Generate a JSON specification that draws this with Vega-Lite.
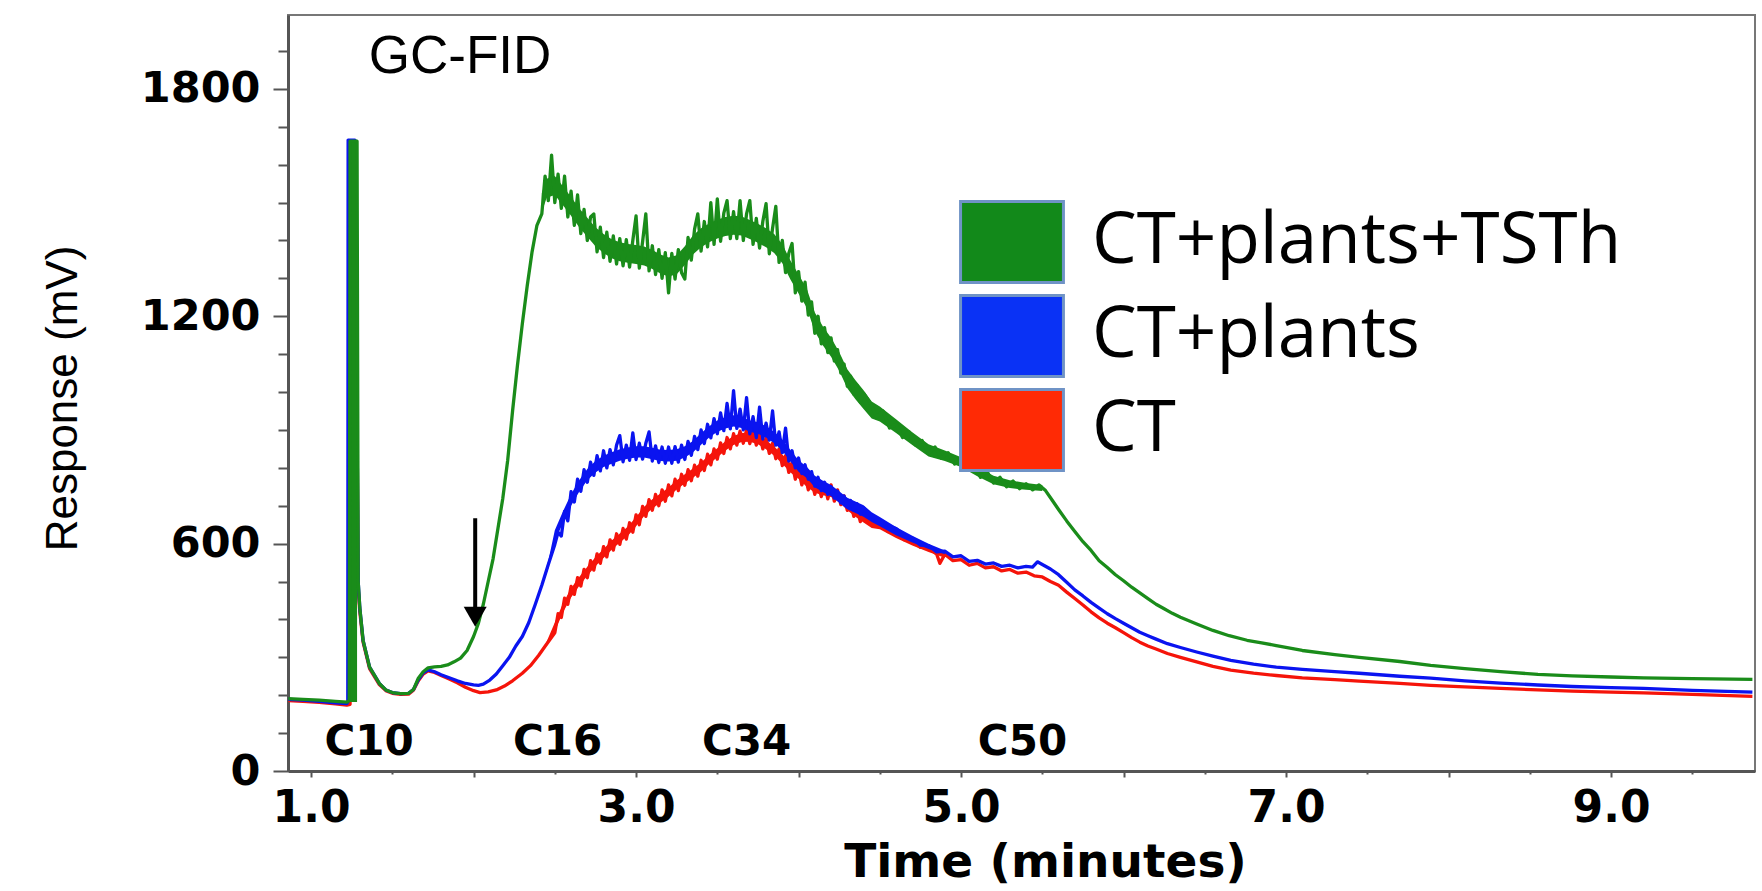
{
  "$schema": "https://vega.github.io/schema/vega-lite/v6.json",
  "width": 1467,
  "height": 756,
  "autosize": {"type": "none"},
  "padding": {"left": 288, "top": 15, "right": 7, "bottom": 120},
  "background": "white",
  "config": {"view": {"stroke": "#777", "strokeWidth": 2}},
  "datasets": {
    "ct": [
      {"time":0.86,"response":186},{"time":0.95,"response":184},{"time":1.05,"response":181},{"time":1.15,"response":177},{"time":1.22,"response":174},{"time":1.24,"response":176},{"time":1.245,"response":1100},{"time":1.28,"response":1100},{"time":1.29,"response":480},{"time":1.30,"response":420},{"time":1.32,"response":340},{"time":1.36,"response":270},{"time":1.42,"response":228},{"time":1.46,"response":212},{"time":1.50,"response":205},{"time":1.55,"response":202},{"time":1.60,"response":203},{"time":1.63,"response":213},{"time":1.66,"response":238},{"time":1.69,"response":256},{"time":1.72,"response":264},{"time":1.76,"response":260},{"time":1.80,"response":252},{"time":1.85,"response":243},{"time":1.90,"response":233},{"time":1.95,"response":221},{"time":2.00,"response":212},{"time":2.04,"response":207},{"time":2.09,"response":209},{"time":2.14,"response":214},{"time":2.19,"response":224},{"time":2.24,"response":238},{"time":2.30,"response":258},{"time":2.35,"response":278},{"time":2.40,"response":305},{"time":2.45,"response":335},
      {"time":2.50,"response":365},{"time":2.52,"response":415},{"time":2.54,"response":405},{"time":2.56,"response":456},{"time":2.58,"response":440},{"time":2.60,"response":487},{"time":2.62,"response":466},{"time":2.64,"response":510},{"time":2.66,"response":488},{"time":2.68,"response":532},{"time":2.70,"response":510},{"time":2.72,"response":555},{"time":2.74,"response":530},{"time":2.76,"response":573},{"time":2.78,"response":548},{"time":2.80,"response":592},{"time":2.82,"response":565},{"time":2.84,"response":610},{"time":2.86,"response":583},{"time":2.88,"response":626},{"time":2.90,"response":598},{"time":2.92,"response":640},{"time":2.94,"response":612},{"time":2.96,"response":655},{"time":2.98,"response":630},{"time":3.00,"response":676},{"time":3.02,"response":650},{"time":3.04,"response":698},{"time":3.06,"response":672},{"time":3.08,"response":716},{"time":3.10,"response":688},{"time":3.12,"response":730},{"time":3.14,"response":700},{"time":3.16,"response":742},{"time":3.18,"response":712},{"time":3.20,"response":755},{"time":3.22,"response":726},{"time":3.24,"response":770},{"time":3.26,"response":740},{"time":3.28,"response":783},{"time":3.30,"response":754},{"time":3.32,"response":795},{"time":3.34,"response":766},{"time":3.36,"response":807},{"time":3.38,"response":778},{"time":3.40,"response":820},{"time":3.42,"response":793},{"time":3.44,"response":836},{"time":3.46,"response":808},{"time":3.48,"response":850},{"time":3.50,"response":823},{"time":3.52,"response":866},{"time":3.54,"response":838},{"time":3.56,"response":880},{"time":3.58,"response":850},{"time":3.60,"response":890},{"time":3.62,"response":860},{"time":3.64,"response":897},{"time":3.66,"response":865},{"time":3.68,"response":900},{"time":3.70,"response":864},{"time":3.72,"response":897},{"time":3.74,"response":860},{"time":3.76,"response":890},{"time":3.78,"response":850},{"time":3.80,"response":878},{"time":3.82,"response":838},{"time":3.84,"response":865},{"time":3.86,"response":824},{"time":3.88,"response":850},{"time":3.90,"response":806},{"time":3.92,"response":832},{"time":3.94,"response":788},{"time":3.96,"response":814},{"time":3.98,"response":770},{"time":4.00,"response":797},{"time":4.02,"response":755},{"time":4.04,"response":782},{"time":4.06,"response":742},{"time":4.08,"response":768},{"time":4.10,"response":730},{"time":4.12,"response":760},{"time":4.14,"response":724},{"time":4.16,"response":758},{"time":4.18,"response":718},{"time":4.20,"response":755},{"time":4.22,"response":712},{"time":4.24,"response":742},{"time":4.26,"response":703},{"time":4.28,"response":726},{"time":4.30,"response":688},{"time":4.32,"response":710},{"time":4.34,"response":672},{"time":4.36,"response":695},{"time":4.38,"response":658},{"time":4.40,"response":680},
      {"time":4.45,"response":650},{"time":4.50,"response":652},{"time":4.55,"response":632},{"time":4.60,"response":630},{"time":4.65,"response":610},{"time":4.70,"response":608},{"time":4.75,"response":590},{"time":4.80,"response":590},{"time":4.85,"response":572},{"time":4.87,"response":548},{"time":4.90,"response":572},{"time":4.95,"response":555},{"time":5.00,"response":558},{"time":5.05,"response":543},{"time":5.10,"response":548},{"time":5.15,"response":536},{"time":5.20,"response":539},{"time":5.25,"response":528},{"time":5.30,"response":532},{"time":5.35,"response":522},{"time":5.40,"response":525},{"time":5.45,"response":515},{"time":5.50,"response":512},{"time":5.55,"response":500},{"time":5.60,"response":490},{"time":5.65,"response":472},{"time":5.70,"response":455},{"time":5.75,"response":438},{"time":5.80,"response":420},{"time":5.85,"response":404},{"time":5.90,"response":390},{"time":5.95,"response":378},{"time":6.00,"response":365},{"time":6.05,"response":352},{"time":6.10,"response":340},{"time":6.15,"response":330},{"time":6.20,"response":322},{"time":6.27,"response":310},{"time":6.35,"response":300},{"time":6.45,"response":288},{"time":6.55,"response":276},{"time":6.66,"response":266},{"time":6.80,"response":258},{"time":6.94,"response":252},{"time":7.10,"response":246},{"time":7.30,"response":241},{"time":7.45,"response":237},{"time":7.70,"response":231},{"time":7.89,"response":226},{"time":8.10,"response":222},{"time":8.32,"response":218},{"time":8.55,"response":214},{"time":8.76,"response":211},{"time":9.00,"response":208},{"time":9.20,"response":206},{"time":9.50,"response":202},{"time":9.87,"response":197}
    ],
    "plants": [
      {"time":0.86,"response":189},{"time":0.95,"response":187},{"time":1.05,"response":184},{"time":1.15,"response":180},{"time":1.22,"response":178},{"time":1.226,"response":182},{"time":1.228,"response":1665},{"time":1.27,"response":1665},{"time":1.285,"response":800},{"time":1.29,"response":500},{"time":1.30,"response":430},{"time":1.32,"response":345},{"time":1.36,"response":274},{"time":1.42,"response":231},{"time":1.46,"response":214},{"time":1.50,"response":207},{"time":1.55,"response":204},{"time":1.60,"response":205},{"time":1.63,"response":215},{"time":1.66,"response":241},{"time":1.69,"response":259},{"time":1.72,"response":267},{"time":1.76,"response":262},{"time":1.80,"response":254},{"time":1.85,"response":246},{"time":1.90,"response":238},{"time":1.95,"response":231},{"time":2.00,"response":227},{"time":2.03,"response":226},{"time":2.06,"response":229},{"time":2.10,"response":240},{"time":2.14,"response":256},{"time":2.18,"response":278},{"time":2.22,"response":300},{"time":2.26,"response":330},{"time":2.30,"response":355},{"time":2.34,"response":392},{"time":2.38,"response":440},{"time":2.42,"response":490},{"time":2.46,"response":545},
      {"time":2.50,"response":598},{"time":2.52,"response":630},{"time":2.54,"response":620},{"time":2.56,"response":685},{"time":2.58,"response":660},{"time":2.60,"response":737},{"time":2.62,"response":710},{"time":2.64,"response":770},{"time":2.66,"response":738},{"time":2.68,"response":795},{"time":2.70,"response":762},{"time":2.72,"response":815},{"time":2.74,"response":780},{"time":2.76,"response":832},{"time":2.78,"response":792},{"time":2.80,"response":845},{"time":2.82,"response":800},{"time":2.84,"response":848},{"time":2.86,"response":808},{"time":2.88,"response":860},{"time":2.90,"response":885},{"time":2.92,"response":816},{"time":2.94,"response":860},{"time":2.96,"response":820},{"time":2.98,"response":892},{"time":3.00,"response":822},{"time":3.02,"response":865},{"time":3.04,"response":823},{"time":3.06,"response":865},{"time":3.08,"response":895},{"time":3.10,"response":818},{"time":3.12,"response":858},{"time":3.14,"response":814},{"time":3.16,"response":855},{"time":3.18,"response":812},{"time":3.20,"response":855},{"time":3.22,"response":812},{"time":3.24,"response":856},{"time":3.26,"response":815},{"time":3.28,"response":860},{"time":3.30,"response":822},{"time":3.32,"response":870},{"time":3.34,"response":833},{"time":3.36,"response":883},{"time":3.38,"response":848},{"time":3.40,"response":900},{"time":3.42,"response":864},{"time":3.44,"response":915},{"time":3.46,"response":879},{"time":3.48,"response":930},{"time":3.50,"response":890},{"time":3.52,"response":945},{"time":3.54,"response":898},{"time":3.56,"response":970},{"time":3.58,"response":903},{"time":3.60,"response":1004},{"time":3.62,"response":904},{"time":3.64,"response":955},{"time":3.66,"response":900},{"time":3.68,"response":985},{"time":3.70,"response":890},{"time":3.72,"response":935},{"time":3.74,"response":880},{"time":3.76,"response":960},{"time":3.78,"response":876},{"time":3.80,"response":918},{"time":3.82,"response":873},{"time":3.84,"response":950},{"time":3.86,"response":860},{"time":3.88,"response":895},{"time":3.90,"response":840},{"time":3.92,"response":905},{"time":3.94,"response":818},{"time":3.96,"response":845},{"time":3.98,"response":800},{"time":4.00,"response":826},{"time":4.02,"response":785},{"time":4.04,"response":808},{"time":4.06,"response":770},{"time":4.08,"response":790},{"time":4.10,"response":752},{"time":4.12,"response":775},{"time":4.14,"response":740},{"time":4.16,"response":762},{"time":4.18,"response":730},{"time":4.20,"response":750},{"time":4.22,"response":720},{"time":4.24,"response":738},{"time":4.26,"response":708},{"time":4.28,"response":726},{"time":4.30,"response":698},{"time":4.32,"response":714},{"time":4.34,"response":688},{"time":4.36,"response":705},{"time":4.38,"response":678},{"time":4.40,"response":695},
      {"time":4.45,"response":672},{"time":4.50,"response":660},{"time":4.55,"response":648},{"time":4.60,"response":640},{"time":4.65,"response":622},{"time":4.70,"response":615},{"time":4.75,"response":596},{"time":4.80,"response":595},{"time":4.85,"response":578},{"time":4.90,"response":580},{"time":4.95,"response":565},{"time":5.00,"response":568},{"time":5.05,"response":553},{"time":5.10,"response":556},{"time":5.15,"response":546},{"time":5.20,"response":549},{"time":5.25,"response":540},{"time":5.30,"response":543},{"time":5.35,"response":536},{"time":5.40,"response":540},{"time":5.44,"response":538},{"time":5.47,"response":552},{"time":5.50,"response":545},{"time":5.55,"response":533},{"time":5.60,"response":518},{"time":5.65,"response":498},{"time":5.70,"response":478},{"time":5.75,"response":462},{"time":5.80,"response":445},{"time":5.85,"response":430},{"time":5.90,"response":415},{"time":5.95,"response":402},{"time":6.00,"response":390},{"time":6.05,"response":378},{"time":6.10,"response":366},{"time":6.15,"response":357},{"time":6.20,"response":348},{"time":6.27,"response":336},{"time":6.35,"response":326},{"time":6.45,"response":314},{"time":6.55,"response":303},{"time":6.66,"response":292},{"time":6.80,"response":282},{"time":6.94,"response":274},{"time":7.10,"response":268},{"time":7.30,"response":262},{"time":7.45,"response":258},{"time":7.70,"response":250},{"time":7.89,"response":245},{"time":8.10,"response":238},{"time":8.32,"response":232},{"time":8.55,"response":227},{"time":8.76,"response":223},{"time":9.00,"response":220},{"time":9.20,"response":218},{"time":9.50,"response":213},{"time":9.87,"response":208}
    ],
    "tsth": [
      {"time":0.86,"response":191},{"time":0.95,"response":189},{"time":1.05,"response":187},{"time":1.15,"response":184},{"time":1.22,"response":182},{"time":1.235,"response":186},{"time":1.24,"response":1662},{"time":1.283,"response":1662},{"time":1.29,"response":500},{"time":1.30,"response":430},{"time":1.32,"response":345},{"time":1.36,"response":274},{"time":1.42,"response":231},{"time":1.46,"response":214},{"time":1.50,"response":207},{"time":1.55,"response":204},{"time":1.60,"response":205},{"time":1.63,"response":215},{"time":1.66,"response":245},{"time":1.69,"response":262},{"time":1.72,"response":272},{"time":1.76,"response":275},{"time":1.80,"response":276},{"time":1.84,"response":280},{"time":1.88,"response":288},{"time":1.92,"response":298},{"time":1.96,"response":318},{"time":2.00,"response":355},{"time":2.03,"response":390},{"time":2.06,"response":440},{"time":2.09,"response":500},{"time":2.12,"response":560},{"time":2.15,"response":640},{"time":2.18,"response":720},{"time":2.21,"response":820},{"time":2.24,"response":950},{"time":2.27,"response":1070},{"time":2.30,"response":1180},{"time":2.33,"response":1280},{"time":2.36,"response":1370},{"time":2.39,"response":1440},
      {"time":2.42,"response":1470},{"time":2.44,"response":1570},{"time":2.46,"response":1505},{"time":2.48,"response":1625},{"time":2.50,"response":1500},{"time":2.52,"response":1575},{"time":2.54,"response":1485},{"time":2.56,"response":1570},{"time":2.58,"response":1462},{"time":2.60,"response":1530},{"time":2.62,"response":1440},{"time":2.64,"response":1520},{"time":2.66,"response":1418},{"time":2.68,"response":1482},{"time":2.70,"response":1400},{"time":2.72,"response":1462},{"time":2.74,"response":1470},{"time":2.76,"response":1370},{"time":2.78,"response":1435},{"time":2.80,"response":1355},{"time":2.82,"response":1422},{"time":2.84,"response":1345},{"time":2.86,"response":1412},{"time":2.88,"response":1338},{"time":2.90,"response":1405},{"time":2.92,"response":1333},{"time":2.94,"response":1402},{"time":2.96,"response":1330},{"time":2.98,"response":1400},{"time":3.00,"response":1465},{"time":3.02,"response":1327},{"time":3.04,"response":1396},{"time":3.06,"response":1470},{"time":3.08,"response":1320},{"time":3.10,"response":1386},{"time":3.12,"response":1310},{"time":3.14,"response":1376},{"time":3.16,"response":1300},{"time":3.18,"response":1368},{"time":3.20,"response":1262},{"time":3.22,"response":1366},{"time":3.24,"response":1298},{"time":3.26,"response":1376},{"time":3.28,"response":1315},{"time":3.30,"response":1298},{"time":3.32,"response":1408},{"time":3.34,"response":1348},{"time":3.36,"response":1430},{"time":3.38,"response":1470},{"time":3.40,"response":1372},{"time":3.42,"response":1450},{"time":3.44,"response":1383},{"time":3.46,"response":1500},{"time":3.48,"response":1390},{"time":3.50,"response":1510},{"time":3.52,"response":1398},{"time":3.54,"response":1472},{"time":3.56,"response":1505},{"time":3.58,"response":1405},{"time":3.60,"response":1476},{"time":3.62,"response":1405},{"time":3.64,"response":1505},{"time":3.66,"response":1400},{"time":3.68,"response":1470},{"time":3.70,"response":1505},{"time":3.72,"response":1390},{"time":3.74,"response":1458},{"time":3.76,"response":1380},{"time":3.78,"response":1450},{"time":3.80,"response":1497},{"time":3.82,"response":1365},{"time":3.84,"response":1432},{"time":3.86,"response":1490},{"time":3.88,"response":1342},{"time":3.90,"response":1400},{"time":3.92,"response":1315},{"time":3.94,"response":1366},{"time":3.96,"response":1392},{"time":3.98,"response":1262},{"time":4.00,"response":1318},{"time":4.02,"response":1240},{"time":4.04,"response":1290},{"time":4.06,"response":1203},{"time":4.08,"response":1238},{"time":4.10,"response":1155},{"time":4.12,"response":1200},{"time":4.14,"response":1127},{"time":4.16,"response":1170},{"time":4.18,"response":1104},{"time":4.20,"response":1143},{"time":4.22,"response":1082},{"time":4.24,"response":1112},{"time":4.26,"response":1050},{"time":4.28,"response":1074},{"time":4.30,"response":1015},{"time":4.32,"response":1042},{"time":4.34,"response":994},{"time":4.36,"response":1018},{"time":4.38,"response":973},{"time":4.40,"response":997},
      {"time":4.44,"response":972},{"time":4.48,"response":935},{"time":4.52,"response":950},{"time":4.56,"response":905},{"time":4.60,"response":915},{"time":4.64,"response":880},{"time":4.68,"response":895},{"time":4.72,"response":860},{"time":4.76,"response":872},{"time":4.80,"response":838},{"time":4.84,"response":855},{"time":4.88,"response":825},{"time":4.92,"response":840},{"time":4.96,"response":810},{"time":5.00,"response":822},{"time":5.04,"response":795},{"time":5.08,"response":805},{"time":5.12,"response":775},{"time":5.16,"response":790},{"time":5.20,"response":760},{"time":5.24,"response":775},{"time":5.28,"response":750},{"time":5.32,"response":765},{"time":5.36,"response":745},{"time":5.40,"response":758},{"time":5.44,"response":742},{"time":5.48,"response":755},{"time":5.52,"response":740},{"time":5.56,"response":715},{"time":5.60,"response":690},{"time":5.65,"response":660},{"time":5.70,"response":632},{"time":5.75,"response":605},{"time":5.80,"response":582},{"time":5.85,"response":555},{"time":5.90,"response":537},{"time":5.95,"response":518},{"time":6.00,"response":502},{"time":6.05,"response":485},{"time":6.10,"response":470},{"time":6.15,"response":455},{"time":6.20,"response":440},{"time":6.25,"response":428},{"time":6.30,"response":416},{"time":6.35,"response":406},{"time":6.45,"response":388},{"time":6.55,"response":371},{"time":6.65,"response":357},{"time":6.76,"response":345},{"time":6.85,"response":338},{"time":6.94,"response":331},{"time":7.10,"response":318},{"time":7.30,"response":307},{"time":7.45,"response":300},{"time":7.70,"response":289},{"time":7.89,"response":279},{"time":8.10,"response":270},{"time":8.32,"response":262},{"time":8.55,"response":255},{"time":8.76,"response":251},{"time":9.00,"response":248},{"time":9.20,"response":246},{"time":9.50,"response":244},{"time":9.87,"response":242}
    ],
    "ctBand": [
      {"time":2.45,"low":330,"high":342},{"time":2.50,"low":368,"high":392},{"time":2.55,"low":418,"high":442},{"time":2.60,"low":458,"high":482},{"time":2.65,"low":488,"high":512},{"time":2.70,"low":515,"high":539},{"time":2.75,"low":540,"high":564},{"time":2.80,"low":562,"high":586},{"time":2.85,"low":584,"high":608},{"time":2.90,"low":603,"high":627},{"time":2.95,"low":621,"high":645},{"time":3.00,"low":646,"high":670},{"time":3.05,"low":673,"high":697},{"time":3.10,"low":693,"high":717},{"time":3.15,"low":708,"high":732},{"time":3.20,"low":724,"high":748},{"time":3.25,"low":743,"high":767},{"time":3.30,"low":759,"high":783},{"time":3.35,"low":774,"high":798},{"time":3.40,"low":790,"high":814},{"time":3.45,"low":810,"high":834},{"time":3.50,"low":828,"high":852},{"time":3.55,"low":846,"high":870},{"time":3.60,"low":860,"high":884},{"time":3.65,"low":868,"high":892},{"time":3.70,"low":869,"high":893},{"time":3.75,"low":862,"high":886},{"time":3.80,"low":849,"high":873},{"time":3.85,"low":832,"high":856},{"time":3.90,"low":811,"high":835},{"time":3.95,"low":788,"high":812},{"time":4.00,"low":771,"high":795},{"time":4.05,"low":750,"high":774},{"time":4.10,"low":734,"high":758},{"time":4.15,"low":728,"high":752},{"time":4.20,"low":723,"high":747},{"time":4.25,"low":710,"high":734},{"time":4.30,"low":688,"high":712},{"time":4.35,"low":671,"high":695},{"time":4.40,"low":656,"high":680},{"time":4.45,"low":641,"high":663},{"time":4.50,"low":638,"high":658},{"time":4.60,"low":615,"high":633},{"time":4.70,"low":595,"high":611},{"time":4.80,"low":578,"high":592},{"time":4.90,"low":563,"high":573}
    ],
    "plantsBand": [
      {"time":2.42,"low":484,"high":496},{"time":2.46,"low":535,"high":555},{"time":2.50,"low":605,"high":635},{"time":2.55,"low":655,"high":685},{"time":2.60,"low":700,"high":730},{"time":2.65,"low":737,"high":767},{"time":2.70,"low":767,"high":797},{"time":2.75,"low":788,"high":818},{"time":2.80,"low":802,"high":832},{"time":2.85,"low":811,"high":841},{"time":2.90,"low":819,"high":849},{"time":2.95,"low":824,"high":854},{"time":3.00,"low":827,"high":857},{"time":3.05,"low":827,"high":857},{"time":3.10,"low":823,"high":853},{"time":3.15,"low":818,"high":848},{"time":3.20,"low":817,"high":847},{"time":3.25,"low":819,"high":849},{"time":3.30,"low":827,"high":857},{"time":3.35,"low":841,"high":871},{"time":3.40,"low":861,"high":891},{"time":3.45,"low":880,"high":910},{"time":3.50,"low":895,"high":925},{"time":3.55,"low":904,"high":934},{"time":3.60,"low":909,"high":939},{"time":3.65,"low":905,"high":935},{"time":3.70,"low":895,"high":925},{"time":3.75,"low":890,"high":920},{"time":3.80,"low":880,"high":910},{"time":3.85,"low":865,"high":895},{"time":3.90,"low":845,"high":875},{"time":3.95,"low":817,"high":847},{"time":4.00,"low":790,"high":820},{"time":4.05,"low":773,"high":803},{"time":4.10,"low":749,"high":779},{"time":4.15,"low":736,"high":766},{"time":4.20,"low":725,"high":755},{"time":4.25,"low":708,"high":738},{"time":4.30,"low":691,"high":721},{"time":4.35,"low":681,"high":711},{"time":4.40,"low":671,"high":701},{"time":4.45,"low":657,"high":683},{"time":4.50,"low":646,"high":670},{"time":4.60,"low":622,"high":644},{"time":4.70,"low":603,"high":621},{"time":4.80,"low":586,"high":600},{"time":4.90,"low":572,"high":582}
    ],
    "tsthBand": [
      {"time":2.42,"low":1475,"high":1525},{"time":2.45,"low":1513,"high":1563},{"time":2.50,"low":1520,"high":1570},{"time":2.55,"low":1493,"high":1543},{"time":2.60,"low":1465,"high":1515},{"time":2.65,"low":1435,"high":1485},{"time":2.70,"low":1410,"high":1460},{"time":2.75,"low":1385,"high":1435},{"time":2.80,"low":1367,"high":1417},{"time":2.85,"low":1353,"high":1403},{"time":2.90,"low":1345,"high":1395},{"time":2.95,"low":1341,"high":1391},{"time":3.00,"low":1338,"high":1388},{"time":3.05,"low":1334,"high":1384},{"time":3.10,"low":1325,"high":1375},{"time":3.15,"low":1313,"high":1363},{"time":3.20,"low":1305,"high":1355},{"time":3.25,"low":1311,"high":1361},{"time":3.30,"low":1335,"high":1385},{"time":3.35,"low":1363,"high":1413},{"time":3.40,"low":1382,"high":1432},{"time":3.45,"low":1395,"high":1445},{"time":3.50,"low":1405,"high":1455},{"time":3.55,"low":1412,"high":1462},{"time":3.60,"low":1415,"high":1465},{"time":3.65,"low":1413,"high":1463},{"time":3.70,"low":1404,"high":1454},{"time":3.75,"low":1394,"high":1444},{"time":3.80,"low":1382,"high":1432},{"time":3.85,"low":1367,"high":1417},{"time":3.90,"low":1340,"high":1390},{"time":3.95,"low":1297,"high":1347},{"time":4.00,"low":1260,"high":1310},{"time":4.05,"low":1223,"high":1273},{"time":4.10,"low":1160,"high":1210},{"time":4.15,"low":1123,"high":1173},{"time":4.20,"low":1093,"high":1143},{"time":4.25,"low":1056,"high":1106},{"time":4.30,"low":1010,"high":1060},{"time":4.35,"low":981,"high":1031},{"time":4.40,"low":955,"high":1005},{"time":4.45,"low":930,"high":975},{"time":4.50,"low":922,"high":962},{"time":4.60,"low":892,"high":928},{"time":4.70,"low":860,"high":894},{"time":4.80,"low":830,"high":862},{"time":4.90,"low":818,"high":846},{"time":5.00,"low":802,"high":828},{"time":5.10,"low":778,"high":802},{"time":5.20,"low":757,"high":779},{"time":5.30,"low":747,"high":767},{"time":5.40,"low":742,"high":760},{"time":5.50,"low":739,"high":755}
    ],
    "tsthSpike": [
      {"time":1.24,"low":182,"high":1662},{"time":1.283,"low":182,"high":1662}
    ],
    "legendEntries": [
      {"series":"CT+plants+TSTh"},{"series":"CT+plants"},{"series":"CT"}
    ],
    "carbons": [
      {"label":"C10","time":1.357,"response":41},
      {"label":"C16","time":2.517,"response":41},
      {"label":"C34","time":3.68,"response":41},
      {"label":"C50","time":5.378,"response":41}
    ],
    "heading": [{"label":"GC-FID","time":1.917,"response":1841}],
    "arrow": [{"time":2.01,"top":667,"bottom":425}],
    "arrowhead": [{"time":2.01,"response":407}]
  },
  "resolve": {"axis": {"x": "independent", "y": "independent"}},
  "layer": [
    {
      "data": {"name": "ctBand"},
      "mark": {"type": "area", "color": "#f5140a", "opacity": 1},
      "encoding": {
        "x": {"field": "time", "type": "quantitative", "scale": {"domain": [0.858, 9.886], "nice": false, "zero": false},
          "axis": {"orient": "bottom", "values": [1,2,3,4,5,6,7,8,9],
            "labelExpr": "datum.value % 2 == 1 ? format(datum.value, '.1f') : ''",
            "labelFont": "DejaVu Sans", "labelFontWeight": "bold", "labelFontSize": 44, "labelColor": "#000",
            "labelPadding": 9, "labelFlush": false, "labelOverlap": false,
            "tickSize": 6, "tickWidth": 2, "tickColor": "#555", "domainColor": "#555", "domainWidth": 3, "grid": false,
            "title": "Time (minutes)", "titleFont": "DejaVu Sans", "titleFontWeight": "bold", "titleFontSize": 47, "titleColor": "#000",
            "titleX": 757, "titleY": 105, "titleBaseline": "alphabetic", "titleAlign": "center"}},
        "y": {"field": "low", "type": "quantitative", "scale": {"domain": [0, 1995], "nice": false},
          "axis": {"orient": "left", "values": [0,600,1200,1800], "format": "d",
            "labelFont": "DejaVu Sans", "labelFontWeight": "bold", "labelFontSize": 43, "labelColor": "#000",
            "labelPadding": 13, "labelFlush": false, "labelOverlap": false,
            "tickSize": 15, "tickWidth": 2, "tickColor": "#555", "domainColor": "#555", "domainWidth": 3, "grid": false,
            "title": "Response (mV)", "titleFont": "Liberation Sans", "titleFontWeight": "normal", "titleFontSize": 44, "titleColor": "#000",
            "titleAngle": -90, "titleX": -212, "titleY": 383, "titleBaseline": "alphabetic", "titleAlign": "center"}},
        "y2": {"field": "high"}
      }
    },
    {
      "data": {"name": "ct"},
      "mark": {"type": "line", "strokeWidth": 3.3, "strokeJoin": "round", "color": "#f5140a"},
      "encoding": {
        "x": {"field": "time", "type": "quantitative", "axis": null},
        "y": {"field": "response", "type": "quantitative", "axis": null}
      }
    },
    {
      "data": {"name": "plantsBand"},
      "mark": {"type": "area", "color": "#0a14f0", "opacity": 1},
      "encoding": {
        "x": {"field": "time", "type": "quantitative", "axis": null},
        "y": {"field": "low", "type": "quantitative", "axis": null},
        "y2": {"field": "high"}
      }
    },
    {
      "data": {"name": "plants"},
      "mark": {"type": "line", "strokeWidth": 3.3, "strokeJoin": "round", "color": "#0a14f0"},
      "encoding": {
        "x": {"field": "time", "type": "quantitative", "axis": null},
        "y": {"field": "response", "type": "quantitative", "axis": null}
      }
    },
    {
      "data": {"name": "tsthSpike"},
      "mark": {"type": "area", "color": "#1a8c1a", "opacity": 1},
      "encoding": {
        "x": {"field": "time", "type": "quantitative", "axis": null},
        "y": {"field": "low", "type": "quantitative", "axis": null},
        "y2": {"field": "high"}
      }
    },
    {
      "data": {"name": "tsthBand"},
      "mark": {"type": "area", "color": "#1a8c1a", "opacity": 1},
      "encoding": {
        "x": {"field": "time", "type": "quantitative", "axis": null},
        "y": {"field": "low", "type": "quantitative", "axis": null},
        "y2": {"field": "high"}
      }
    },
    {
      "data": {"name": "tsth"},
      "mark": {"type": "line", "strokeWidth": 3.3, "strokeJoin": "round", "color": "#1a8c1a"},
      "encoding": {
        "x": {"field": "time", "type": "quantitative", "axis": null},
        "y": {"field": "response", "type": "quantitative", "axis": null}
      }
    },
    {
      "data": {"name": "legendEntries"},
      "transform": [{"filter": "false"}],
      "mark": {"type": "square", "filled": true},
      "encoding": {
        "fill": {"field": "series", "type": "nominal",
          "scale": {"domain": ["CT+plants+TSTh", "CT+plants", "CT"], "range": ["#12891a", "#0a32f5", "#ff2a05"]},
          "legend": {"title": null, "orient": "none", "legendX": 682, "legendY": 185, "direction": "vertical",
            "symbolType": "M-1.27,-1H1.27V1H-1.27Z", "symbolSize": 6561, "symbolStrokeWidth": 3, "symbolStrokeColor": "#6f93c6", "symbolOpacity": 1,
            "labelFont": "Open Sans", "labelFontSize": 71, "labelColor": "#000", "labelOffset": 38, "labelLimit": 1000,
            "rowPadding": 0, "padding": 0}}
      }
    },
    {
      "data": {"name": "arrow"},
      "mark": {"type": "rule", "strokeWidth": 4, "color": "#000"},
      "encoding": {
        "x": {"field": "time", "type": "quantitative", "axis": null},
        "y": {"field": "top", "type": "quantitative", "axis": null},
        "y2": {"field": "bottom"}
      }
    },
    {
      "data": {"name": "arrowhead"},
      "mark": {"type": "point", "shape": "triangle-down", "filled": true, "size": 529, "color": "#000", "opacity": 1},
      "encoding": {
        "x": {"field": "time", "type": "quantitative", "axis": null},
        "y": {"field": "response", "type": "quantitative", "axis": null}
      }
    },
    {
      "data": {"name": "carbons"},
      "mark": {"type": "text", "font": "DejaVu Sans", "fontWeight": "bold", "fontSize": 42, "align": "center", "baseline": "alphabetic", "color": "#000"},
      "encoding": {
        "x": {"field": "time", "type": "quantitative",
          "axis": {"orient": "bottom", "values": [1.5,2.5,3.5,4.5,5.5,6.5,7.5,8.5,9.5], "labels": false, "domain": false, "tickSize": 3, "tickWidth": 2, "tickColor": "#555", "title": null, "grid": false}},
        "y": {"field": "response", "type": "quantitative",
          "axis": {"orient": "left", "values": [100,200,300,400,500,700,800,900,1000,1100,1300,1400,1500,1600,1700,1900], "labels": false, "domain": false, "tickSize": 10, "tickWidth": 2, "tickColor": "#555", "title": null, "grid": false}},
        "text": {"field": "label"}
      }
    },
    {
      "data": {"name": "heading"},
      "mark": {"type": "text", "font": "Liberation Sans", "fontSize": 53, "align": "center", "baseline": "alphabetic", "color": "#000"},
      "encoding": {
        "x": {"field": "time", "type": "quantitative", "axis": null},
        "y": {"field": "response", "type": "quantitative", "axis": null},
        "text": {"field": "label"}
      }
    }
  ]
}
